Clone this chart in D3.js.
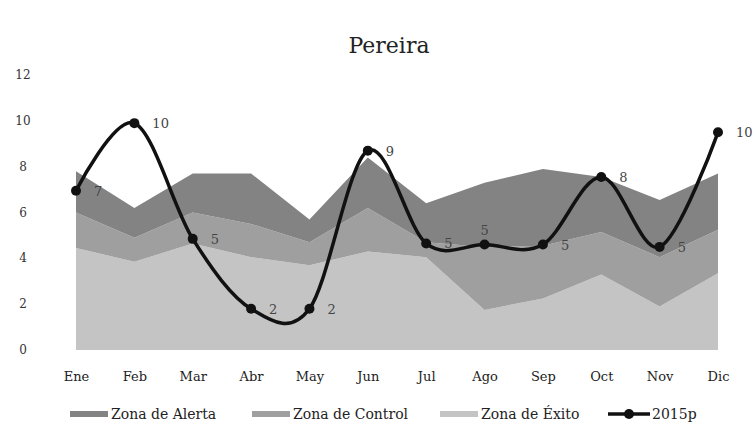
<!DOCTYPE html>
<html>
<head>
<meta charset="utf-8">
<script src="https://d3js.org/d3.v7.min.js"></script>
<style>
  body { margin: 0; background: #fff; }
  text { font-family: "DejaVu Serif", serif; }
</style>
</head>
<body>
<div id="chart"></div>
<script>
// data
const months = ["Ene","Feb","Mar","Abr","May","Jun","Jul","Ago","Sep","Oct","Nov","Dic"];
const exito   = [4.45, 3.85, 4.65, 4.05, 3.7, 4.3, 4.05, 1.75, 2.25, 3.3, 1.9, 3.35];
const control = [1.55, 1.05, 1.35, 1.45, 1.0, 1.9, 0.65, 2.75, 2.3, 1.85, 2.15, 1.9];
const alerta  = [1.8, 1.3, 1.7, 2.2, 1.0, 2.2, 1.7, 2.8, 3.35, 2.4, 2.5, 2.45];
const serie2015 = [6.95, 9.9, 4.85, 1.8, 1.8, 8.7, 4.65, 4.6, 4.6, 7.55, 4.5, 9.5];
const yTicks = [0, 2, 4, 6, 8, 10, 12];

const width = 755, height = 433;

const svg = d3.select("#chart").append("svg")
    .attr("width", width)
    .attr("height", height);

const x = d3.scalePoint()
  .domain(months)
  .range([76, 718]);

const y = d3.scaleLinear()
  .domain([0, 12])
  .range([350, 75]);

// stacked zones
const rows = months.map((m, i) => ({month: m, exito: exito[i], control: control[i], alerta: alerta[i]}));
const keys = ["exito", "control", "alerta"];
const colors = {exito: "#c4c4c4", control: "#9f9f9f", alerta: "#838383"};
const stacked = d3.stack().keys(keys)(rows);

const area = d3.area()
  .x(d => x(d.data.month))
  .y0(d => y(d[0]))
  .y1(d => y(d[1]));

svg.selectAll(".zone")
  .data(stacked)
  .join("path")
    .attr("class", "zone")
    .attr("d", area)
    .attr("fill", d => colors[d.key]);

// title
svg.append("text")
  .attr("x", 389)
  .attr("y", 53)
  .attr("text-anchor", "middle")
  .style("font-size", "22px")
  .attr("fill", "#222")
  .text("Pereira");

// y axis labels (no line, no ticks)
svg.selectAll(".ylab")
  .data(yTicks)
  .join("text")
    .attr("class", "ylab")
    .attr("x", 23)
    .attr("y", d => y(d) + 4)
    .attr("text-anchor", "middle")
    .style("font-size", "12px")
    .attr("fill", "#333")
    .text(d => d);

// x axis labels
const xAxis = svg.append("g")
  .attr("transform", "translate(0,360)")
  .call(d3.axisBottom(x).tickSize(0).tickPadding(12));
xAxis.select(".domain").remove();
xAxis.selectAll("text")
  .style("font-size", "13px")
  .style("font-family", "DejaVu Serif, serif")
  .attr("fill", "#222");

// 2015p line
const line = d3.line()
  .x((d, i) => x(months[i]))
  .y(d => y(d))
  .curve(d3.curveCardinal.tension(0));

svg.append("path")
  .datum(serie2015)
  .attr("d", line)
  .attr("fill", "none")
  .attr("stroke", "#111")
  .attr("stroke-width", 3.5);

svg.selectAll(".pt")
  .data(serie2015)
  .join("circle")
    .attr("class", "pt")
    .attr("cx", (d, i) => x(months[i]))
    .attr("cy", d => y(d))
    .attr("r", 5)
    .attr("fill", "#111");

svg.selectAll(".vlab")
  .data(serie2015)
  .join("text")
    .attr("class", "vlab")
    .attr("x", (d, i) => x(months[i]) + (i === 7 ? 0 : 18))
    .attr("y", (d, i) => y(d) + (i === 7 ? -10 : 5))
    .attr("text-anchor", (d, i) => i === 7 ? "middle" : "start")
    .style("font-size", "13px")
    .attr("fill", "#444")
    .text(d => Math.round(d));

// legend
const legend = [
  {label: "Zona de Alerta", color: colors.alerta, x: 70, type: "box"},
  {label: "Zona de Control", color: colors.control, x: 252, type: "box"},
  {label: "Zona de Éxito", color: colors.exito, x: 440, type: "box"},
  {label: "2015p", color: "#111", x: 608, type: "line"}
];
const lg = svg.selectAll(".lg")
  .data(legend)
  .join("g")
    .attr("class", "lg")
    .attr("transform", d => `translate(${d.x},414)`);

lg.filter(d => d.type === "box").append("rect")
  .attr("x", 0).attr("y", -3).attr("width", 38).attr("height", 6)
  .attr("fill", d => d.color);
lg.filter(d => d.type === "line").append("line")
  .attr("x1", 0).attr("x2", 42).attr("y1", 0).attr("y2", 0)
  .attr("stroke", "#111").attr("stroke-width", 3.5);
lg.filter(d => d.type === "line").append("circle")
  .attr("cx", 21).attr("cy", 0).attr("r", 5).attr("fill", "#111");
lg.append("text")
  .attr("x", d => d.type === "line" ? 44 : 41)
  .attr("y", 5)
  .style("font-size", "14px")
  .attr("fill", "#222")
  .text(d => d.label);
</script>
</body>
</html>
